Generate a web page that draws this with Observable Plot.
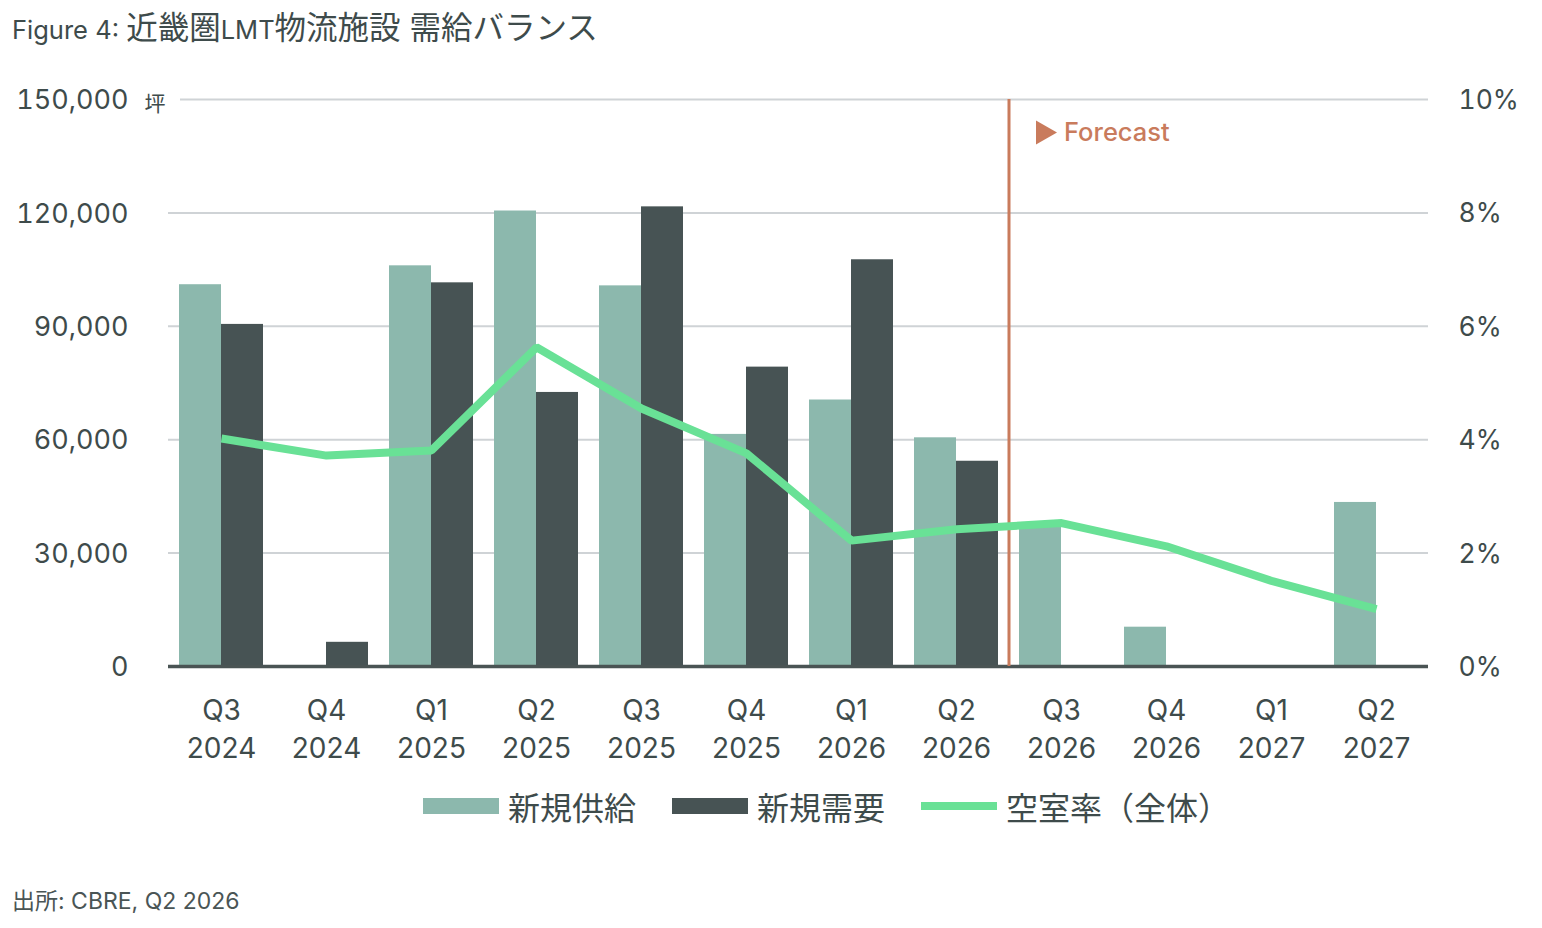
<!DOCTYPE html>
<html>
<head>
<meta charset="utf-8">
<script src="https://cdn.jsdelivr.net/npm/d3@7"></script>
<script src="https://cdn.jsdelivr.net/npm/@observablehq/plot@0.6"></script>
<style>
  html, body { margin: 0; padding: 0; background: #fff; }
  body { width: 1542px; height: 928px; position: relative; overflow: hidden;
         font-family: "Inter", "Noto Sans CJK JP", sans-serif; color: #3E4B4B; }
  #title { position: absolute; left: 12px; top: 2px; font-size: 31.5px; white-space: nowrap; }
  #title .lat { font-size: 25.5px; }
  #chart { position: absolute; left: 0; top: 60px; }
  #legend { position: absolute; left: 423px; top: 783px; display: flex; align-items: center; font-size: 32px; white-space: nowrap; }
  #legend .item { display: flex; align-items: center; margin-right: 36px; }
  #legend .sw { width: 76px; height: 16px; margin-right: 9px; }
  #legend .ln { width: 76px; height: 8px; margin-right: 9px; }
  #caption { position: absolute; left: 12px; top: 882px; font-size: 23px; color: #4A5555; white-space: nowrap; }
</style>
</head>
<body>
<div id="title"><span class="lat">Figure 4: </span>近畿圏<span class="lat">LMT</span>物流施設 需給バランス</div>
<div id="chart"></div>
<div id="legend"></div>
<div id="caption">出所: CBRE, Q2 2026</div>
<script>
const quarters = ["Q3 2024","Q4 2024","Q1 2025","Q2 2025","Q3 2025","Q4 2025","Q1 2026","Q2 2026","Q3 2026","Q4 2026","Q1 2027","Q2 2027"];
const supply = [101000, 0, 106000, 120500, 100700, 61400, 70500, 60500, 37000, 10400, 0, 43400];
const demand = [90500, 6400, 101500, 72500, 121600, 79200, 107600, 54300, null, null, null, null];
const vacancy = [4.02, 3.72, 3.81, 5.63, 4.55, 3.76, 2.22, 2.42, 2.53, 2.12, 1.51, 1.01];
const leftTicks = [0, 30000, 60000, 90000, 120000, 150000];
const rightTickLabels = ["0%", "2%", "4%", "6%", "8%", "10%"];
const forecastStart = "Q3 2026";
const seriesNames = ["新規供給", "新規需要", "空室率（全体）"];
const colors = { supply: "#8CB8AD", demand: "#475354", vacancy: "#69E196", grid: "#CFD3D6", axis: "#4A5454", forecast: "#C97B5C", text: "#3E4B4B" };

const width = 1542, height = 720;
const marginLeft = 168, marginRight = 114, marginTop = 39, marginBottom = 114;
const step = (width - marginLeft - marginRight) / quarters.length;
const half = step * 0.8 / 2;
const vacScale = 150000 / 10; // 10% maps to top of left axis

const rows = quarters.map((q, i) => ({ q, supply: supply[i], demand: demand[i], vac: vacancy[i] }));
const font = "Inter, 'Noto Sans CJK JP', sans-serif";

const chart = Plot.plot({
  width, height, marginLeft, marginRight, marginTop, marginBottom,
  style: { fontFamily: font, color: colors.text, background: "white" },
  x: { domain: quarters, type: "band", paddingInner: 0.2, paddingOuter: 0.1, axis: null },
  y: { domain: [0, 150000], axis: null },
  marks: [
    Plot.ruleY(leftTicks.filter(d => d > 0 && d < 150000), { stroke: colors.grid, strokeWidth: 2 }),
    Plot.ruleY([150000], { stroke: colors.grid, strokeWidth: 2, insetLeft: 12 }),
    Plot.barY(rows, { x: "q", y: "supply", fill: colors.supply, insetRight: half }),
    Plot.barY(rows.filter(d => d.demand != null), { x: "q", y: "demand", fill: colors.demand, insetLeft: half }),
    Plot.ruleY([0], { stroke: colors.axis, strokeWidth: 3.5 }),
    Plot.ruleX([forecastStart], { x: d => d, dx: -step / 2, y1: 0, y2: 150000, stroke: colors.forecast, strokeWidth: 3 }),
    Plot.line(rows, { x: "q", y: d => d.vac * vacScale, stroke: colors.vacancy, strokeWidth: 8, strokeLinejoin: "miter", strokeLinecap: "butt" }),
    Plot.dot([forecastStart], { x: d => d, y: () => 150000, dx: -step / 2 + 34, dy: 33, symbol: "triangle", rotate: 90, r: 9, fill: colors.forecast, stroke: "none" }),
    Plot.text([forecastStart], { x: d => d, y: () => 150000, dx: -step / 2 + 55, dy: 33, text: () => "Forecast", textAnchor: "start", fill: colors.forecast, fontSize: 25.5, fontWeight: 500 }),
    Plot.axisY({ anchor: "left", ticks: leftTicks, tickSize: 0, tickPadding: 40, tickFormat: d3.format(","), fontSize: 27, fill: colors.text, dy: 1 }),
    Plot.axisY({ anchor: "right", ticks: leftTicks, tickSize: 0, tickPadding: 30, tickFormat: (d) => rightTickLabels[leftTicks.indexOf(d)], fontSize: 26.5, fill: colors.text, dy: 1 }),
    Plot.text(["坪"], { frameAnchor: "top-left", dx: -24, dy: -3, textAnchor: "start", fontSize: 21, fill: colors.text }),
    Plot.text(rows, { x: "q", y: () => 0, text: d => d.q.replace(" ", "\n"), lineHeight: 1.36, lineAnchor: "middle", dy: 60, fontSize: 28, fill: colors.text })
  ]
});
document.getElementById("chart").appendChild(chart);

const legend = document.getElementById("legend");
const legendItems = [
  { name: seriesNames[0], cls: "sw", color: colors.supply },
  { name: seriesNames[1], cls: "sw", color: colors.demand },
  { name: seriesNames[2], cls: "ln", color: colors.vacancy }
];
legendItems.forEach(it => {
  const div = document.createElement("div");
  div.className = "item";
  const sw = document.createElement("span");
  sw.className = it.cls;
  sw.style.background = it.color;
  const t = document.createElement("span");
  t.textContent = it.name;
  div.appendChild(sw); div.appendChild(t);
  legend.appendChild(div);
});
</script>
</body>
</html>
